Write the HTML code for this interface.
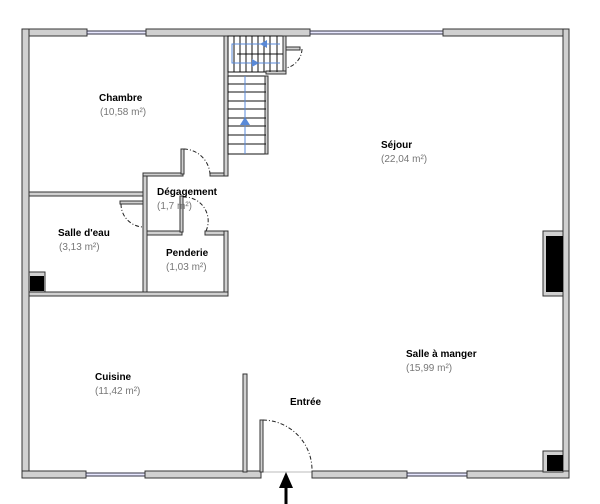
<!DOCTYPE html>
<html><head><meta charset="utf-8"><style>
html,body{margin:0;padding:0;background:#fff;width:600px;height:504px;overflow:hidden}
svg{display:block}
.w{fill:#d0d0d0;stroke:#333;stroke-width:1}
.t{font-family:"Liberation Sans",sans-serif;font-size:10px;font-weight:bold;fill:#000}
.a{font-family:"Liberation Sans",sans-serif;font-size:10px;fill:#777}
.st{stroke:#111;stroke-width:1}
.arc{fill:none;stroke:#222;stroke-width:1;stroke-dasharray:4,2,1,2}
.win{fill:#e8e8ff;stroke:#334;stroke-width:1}
</style></head><body>
<svg width="600" height="504" viewBox="0 0 600 504">
<!-- top wall -->
<rect class="w" x="22" y="29" width="65" height="7"/>
<rect class="win" x="87" y="31" width="59" height="3"/>
<rect class="w" x="146" y="29" width="164" height="7"/>
<rect class="win" x="310" y="31" width="133" height="3"/>
<rect class="w" x="443" y="29" width="126" height="7"/>
<!-- left/right walls -->
<rect class="w" x="22" y="29" width="7" height="449"/>
<rect class="w" x="563" y="29" width="6" height="449"/>
<!-- bottom wall -->
<rect class="w" x="22" y="471" width="64" height="7"/>
<rect class="win" x="86" y="473" width="59" height="3"/>
<rect class="w" x="145" y="471" width="116" height="7"/>
<line x1="261" y1="472" x2="312" y2="472" stroke="#bbb"/>
<rect class="w" x="312" y="471" width="95" height="7"/>
<rect class="win" x="407" y="473" width="60" height="3"/>
<rect class="w" x="467" y="471" width="102" height="7"/>
<!-- interior walls -->
<rect class="w" x="29" y="192" width="114" height="4"/>
<rect class="w" x="143" y="173" width="4" height="123"/>
<rect class="w" x="143" y="173" width="40" height="3"/>
<rect class="w" x="210" y="173" width="18" height="3"/>
<rect class="w" x="224" y="36" width="4" height="140"/>
<rect class="w" x="181" y="149" width="3" height="25"/>
<path class="arc" d="M184 149 A27 27 0 0 1 210 174"/>
<rect class="w" x="147" y="231" width="35" height="4"/>
<rect class="w" x="205" y="231" width="23" height="4"/>
<rect class="w" x="180" y="196" width="3" height="36"/>
<path class="arc" d="M183 197 A24 24 0 0 1 206 231"/>
<rect class="w" x="224" y="231" width="4" height="65"/>
<rect class="w" x="29" y="292" width="199" height="4"/>
<rect class="w" x="120" y="201" width="23" height="3"/>
<path class="arc" d="M121 204 A23 23 0 0 0 143 227"/>
<!-- black squares -->
<rect x="29" y="272" width="16" height="20" fill="#d0d0d0" stroke="#333"/>
<rect x="30" y="276" width="14" height="15" fill="#000"/>
<rect x="543" y="231" width="20" height="65" fill="#d0d0d0" stroke="#333"/>
<rect x="546" y="236" width="17" height="56" fill="#000"/>
<rect x="543" y="451" width="20" height="21" fill="#d0d0d0" stroke="#333"/>
<rect x="547" y="455" width="16" height="16" fill="#000"/>
<!-- Entrée partition -->
<rect class="w" x="243" y="374" width="4" height="98"/>
<rect class="w" x="260" y="420" width="3" height="52"/>
<path class="arc" d="M263 420 A50 50 0 0 1 312 470"/>
<!-- stairs -->
<rect x="228" y="36" width="56" height="36" fill="#fff" stroke="#111"/>
<rect class="w" x="283" y="36" width="3" height="37"/>
<rect class="w" x="266" y="71" width="20" height="3"/>
<g class="st">
<line x1="234" y1="36" x2="234" y2="72"/><line x1="240" y1="36" x2="240" y2="72"/>
<line x1="246" y1="36" x2="246" y2="72"/><line x1="252" y1="36" x2="252" y2="72"/>
<line x1="258" y1="36" x2="258" y2="72"/><line x1="264" y1="36" x2="264" y2="72"/>
<line x1="270" y1="36" x2="270" y2="72"/><line x1="277" y1="36" x2="277" y2="72"/>
<line x1="237" y1="54" x2="283" y2="54"/>
</g>
<rect x="228" y="76" width="38" height="78" fill="#fff" stroke="#111"/>
<rect class="w" x="265" y="76" width="3" height="78"/>
<g class="st">
<line x1="228" y1="84" x2="266" y2="84"/><line x1="228" y1="92" x2="266" y2="92"/>
<line x1="228" y1="101" x2="266" y2="101"/><line x1="228" y1="109" x2="266" y2="109"/>
<line x1="228" y1="118" x2="266" y2="118"/><line x1="228" y1="126" x2="266" y2="126"/>
<line x1="228" y1="135" x2="266" y2="135"/><line x1="228" y1="144" x2="266" y2="144"/>
</g>
<g stroke="#5a8ad8" fill="none" stroke-width="1">
<line x1="245" y1="154" x2="245" y2="76"/>
<path d="M280 44 H232 V63 H280"/>
</g>
<g fill="#5a8ad8">
<polygon points="245,117 240,125 250,125"/>
<polygon points="260,44 267,40 267,48"/>
<polygon points="259,63 252,59 252,67"/>
</g>
<rect class="w" x="286" y="47" width="14" height="3"/>
<path class="arc" d="M302 49 A20 20 0 0 1 286 68"/>
<!-- arrow -->
<line x1="286" y1="486" x2="286" y2="504" stroke="#000" stroke-width="3"/>
<polygon points="286,472 279,488 293,488" fill="#000"/>
<!-- labels -->
<text class="t" x="99" y="101">Chambre</text>
<text class="a" x="100" y="115">(10,58 m²)</text>
<text class="t" x="381" y="148">Séjour</text>
<text class="a" x="381" y="162">(22,04 m²)</text>
<text class="t" x="157" y="195">Dégagement</text>
<text class="a" x="157" y="209">(1,7 m²)</text>
<text class="t" x="58" y="236">Salle d'eau</text>
<text class="a" x="59" y="250">(3,13 m²)</text>
<text class="t" x="166" y="256">Penderie</text>
<text class="a" x="166" y="270">(1,03 m²)</text>
<text class="t" x="406" y="357">Salle à manger</text>
<text class="a" x="406" y="371">(15,99 m²)</text>
<text class="t" x="95" y="380">Cuisine</text>
<text class="a" x="95" y="394">(11,42 m²)</text>
<text class="t" x="290" y="405">Entrée</text>
</svg>
</body></html>
